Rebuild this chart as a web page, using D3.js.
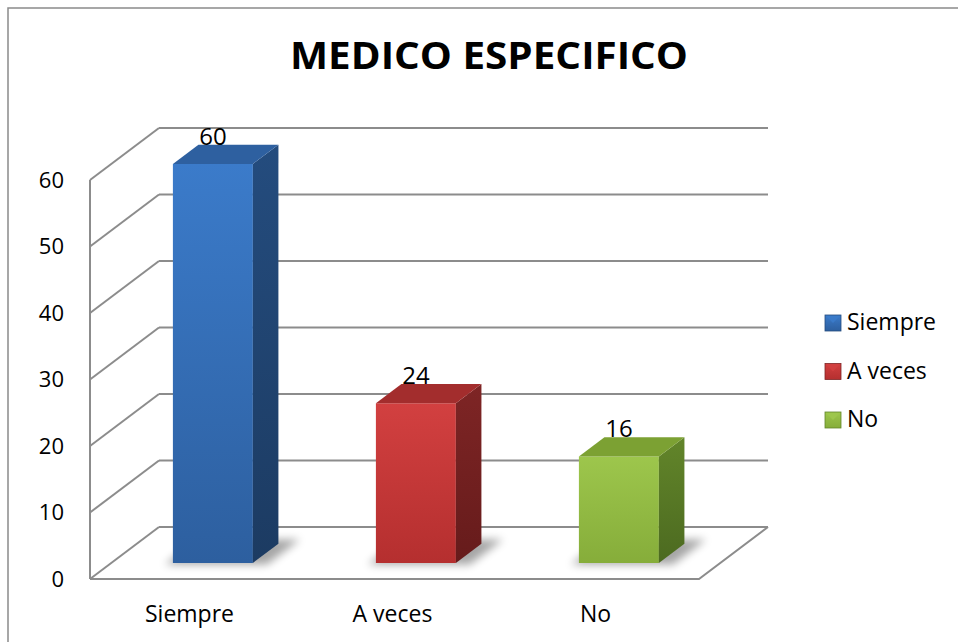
<!DOCTYPE html>
<html>
<head>
<meta charset="utf-8">
<script src="https://cdn.jsdelivr.net/npm/d3@7/dist/d3.min.js"></script>
<style>
  html,body{margin:0;padding:0;background:#fff;}
  svg{display:block;}
  text{font-family:"Open Sans","DejaVu Sans",sans-serif;fill:#000;}
</style>
</head>
<body>
<svg id="chart" width="958" height="642"></svg>
<script>
// ---- data ----
const title = "MEDICO ESPECIFICO";
const categories = ["Siempre", "A veces", "No"];
const values = [60, 24, 16];
const yTicks = [0, 10, 20, 30, 40, 50, 60];
const frontTop = ["#3b7bca", "#d24040", "#9dc64c"];
const frontBot = ["#2d5f9f", "#b52f2f", "#86ad3a"];
const topFace = ["#2e60a0", "#a32d2d", "#7ca133"];
const sideTop = ["#244c7e", "#7e2525", "#62852a"];
const sideBot = ["#1c3b62", "#661b1b", "#4c6a20"];

const svg = d3.select("#chart");
const defs = svg.append("defs");

// outer chart border
svg.append("rect").attr("x", 8).attr("y", 8).attr("width", 1000).attr("height", 700)
  .attr("fill", "#fff").attr("stroke", "#8a8a8a").attr("stroke-width", 1.5);

// scales (front plane)
const y = d3.scaleLinear().domain([0, 60]).range([579, 180]);
const x = d3.scaleBand().domain(categories).range([90, 699]).padding(0);
const DX = 69, DY = 52;
const P = (xx, v, d) => [xx + d * DX, y(v) - d * DY];
const barFrac = 0.394, d0 = 0.31, d1 = 0.68;

const grid = svg.append("g").attr("stroke", "#8c8c8c").attr("stroke-width", 2).attr("fill", "none");
// back wall gridlines
yTicks.forEach(v => {
  const a = P(90, v, 1), b = P(699, v, 1);
  grid.append("line").attr("x1", a[0]).attr("y1", a[1]).attr("x2", b[0]).attr("y2", b[1]);
  // left wall diagonals
  const c = P(90, v, 0);
  grid.append("line").attr("x1", c[0]).attr("y1", c[1]).attr("x2", a[0]).attr("y2", a[1]);
});
// left wall vertical
grid.append("line").attr("x1", 90).attr("y1", y(60)).attr("x2", 90).attr("y2", y(0));
// floor outline
const floor = [P(90, 0, 0), P(699, 0, 0), P(699, 0, 1)];
grid.append("polyline").attr("points", floor.map(p => p.join(",")).join(" "));

// y tick labels
svg.append("g").selectAll("text").data(yTicks).join("text")
  .attr("x", 64).attr("y", d => y(d)).attr("dy", "0.36em")
  .attr("text-anchor", "end").attr("font-size", 22).text(d => d);

// x labels
svg.append("g").selectAll("text").data(categories).join("text")
  .attr("x", d => x(d) + x.bandwidth() / 2 - 2).attr("y", 622)
  .attr("text-anchor", "middle").attr("font-size", 23).text(d => d);

// shadow filter
const f = defs.append("filter").attr("id", "blur").attr("x", "-50%").attr("y", "-50%").attr("width", "200%").attr("height", "200%");
f.append("feGaussianBlur").attr("stdDeviation", 4);

// gradients
categories.forEach((c, i) => {
  const g1 = defs.append("linearGradient").attr("id", "front" + i).attr("x1", 0).attr("y1", 0).attr("x2", 0).attr("y2", 1);
  g1.append("stop").attr("offset", 0).attr("stop-color", frontTop[i]);
  g1.append("stop").attr("offset", 1).attr("stop-color", frontBot[i]);
  const g2 = defs.append("linearGradient").attr("id", "side" + i).attr("x1", 0).attr("y1", 0).attr("x2", 0).attr("y2", 1);
  g2.append("stop").attr("offset", 0).attr("stop-color", sideTop[i]);
  g2.append("stop").attr("offset", 1).attr("stop-color", sideBot[i]);
  const g3 = defs.append("linearGradient").attr("id", "leg" + i).attr("x1", 0).attr("y1", 0).attr("x2", 0).attr("y2", 1);
  g3.append("stop").attr("offset", 0).attr("stop-color", frontTop[i]);
  g3.append("stop").attr("offset", 1).attr("stop-color", frontBot[i]);
});

const poly = pts => pts.map(p => p.join(",")).join(" ");
const bars = svg.append("g");
categories.forEach((c, i) => {
  const v = values[i];
  const w = x.bandwidth() * barFrac;
  const cx = x(c) + x.bandwidth() / 2;
  const x0 = cx - w / 2, x1 = cx + w / 2;
  // shadow
  bars.append("polygon")
    .attr("points", poly([P(x0 - 6, 0, d0 - 0.03), P(x1 + 16, 0, d0 - 0.03), P(x1 + 16, 0, d1 + 0.08), P(x0 - 6, 0, d1 + 0.08)]))
    .attr("fill", "#000").attr("opacity", 0.35).attr("filter", "url(#blur)");
  // front
  bars.append("polygon").attr("points", poly([P(x0, 0, d0), P(x1, 0, d0), P(x1, v, d0), P(x0, v, d0)]))
    .attr("fill", `url(#front${i})`);
  // side
  bars.append("polygon").attr("points", poly([P(x1, 0, d0), P(x1, 0, d1), P(x1, v, d1), P(x1, v, d0)]))
    .attr("fill", `url(#side${i})`);
  // top
  bars.append("polygon").attr("points", poly([P(x0, v, d0), P(x1, v, d0), P(x1, v, d1), P(x0, v, d1)]))
    .attr("fill", topFace[i]);
  // label
  const lp = P(cx, v, d0);
  bars.append("text").attr("x", lp[0]).attr("y", lp[1] - 19)
    .attr("text-anchor", "middle").attr("font-size", 24).text(v);
});

// title
svg.append("text").attr("x", 489).attr("y", 69).attr("text-anchor", "middle")
  .attr("font-size", 38).attr("font-weight", "bold")
  .attr("textLength", 398).attr("lengthAdjust", "spacingAndGlyphs").text(title);

// legend
const leg = svg.append("g");
categories.forEach((c, i) => {
  const yy = 315 + i * 48.5;
  leg.append("rect").attr("x", 825).attr("y", yy).attr("width", 16).attr("height", 16)
    .attr("fill", `url(#leg${i})`).attr("stroke", sideTop[i]).attr("stroke-width", 0.8);
  leg.append("path").attr("d", `M${826},${yy + 1} L${833},${yy + 8} L${840},${yy + 1} Z`)
    .attr("fill", frontTop[i]).attr("opacity", 0.9);
  leg.append("text").attr("x", 847).attr("y", yy + 15).attr("font-size", 23).text(c);
});
</script>
</body>
</html>
